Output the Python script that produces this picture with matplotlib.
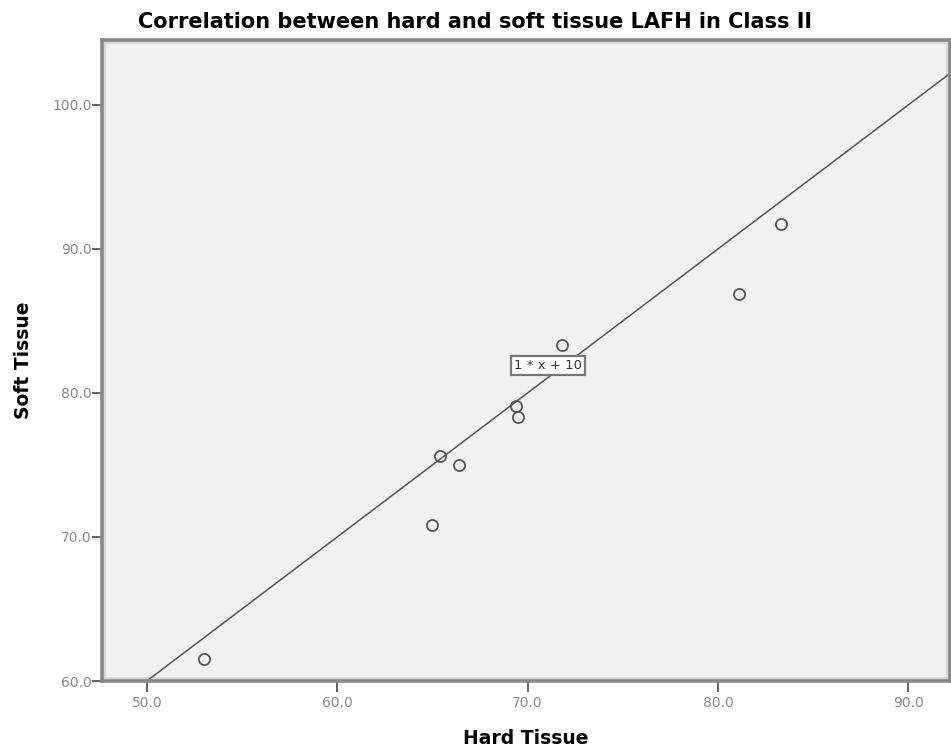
import matplotlib
matplotlib.use("Agg")
import matplotlib.pyplot as plt
from matplotlib.patches import Rectangle
import numpy as np

plt.rcParams['font.family'] = ['DejaVu Sans']

hard_tissue = [53.0, 65.0, 65.4, 66.4, 69.4, 69.5, 71.8, 81.1, 83.3]
soft_tissue = [61.5, 70.8, 75.6, 75.0, 79.1, 78.3, 83.3, 86.9, 91.7]
fit_slope = 1.0
fit_intercept = 10.0
fit_label = "1 * x + 10"
x_ticks = [50.0, 60.0, 70.0, 80.0, 90.0]
y_ticks = [60.0, 70.0, 80.0, 90.0, 100.0]

fig = plt.figure(figsize=(9.51, 7.55), dpi=100)
ax = fig.add_axes([0.1073, 0.098, 0.892, 0.849])
ax.set_facecolor("#F0F1F0")
ax.set_xlim(47.65, 92.2)
ax.set_ylim(60.0, 104.5)

ax.add_patch(Rectangle((0, 0), 1, 1, transform=ax.transAxes, fc='none',
                       ec='#d6d6d6', lw=5.5, zorder=0.5, clip_on=True))

xl = np.array(ax.get_xlim())
ax.plot(xl, fit_slope * xl + fit_intercept, color="#555555", lw=1.1, zorder=2)
ax.plot(hard_tissue, soft_tissue, 'o', mfc='none', mec='#555555', mew=1.3, ms=8, zorder=3)

xm = 71.05
ax.text(xm, fit_slope * xm + fit_intercept + 0.85, fit_label, fontsize=9.5, ha='center', va='center',
        color='#333333', zorder=4,
        bbox=dict(boxstyle='square,pad=0.22', fc='white', ec='#777777', lw=1.6))

for s in ax.spines.values():
    s.set_color('#888888')
    s.set_linewidth(2.6)

ax.set_xticks(x_ticks)
ax.set_yticks(y_ticks)
ax.set_xticklabels([f"{v:.1f}" for v in x_ticks])
ax.set_yticklabels([f"{v:.1f}" for v in y_ticks])
ax.tick_params(axis='x', length=8, width=1.3, color='#555555', labelcolor='#8a8a8a', labelsize=10, pad=3)
ax.tick_params(axis='y', length=7, width=1.3, color='#555555', labelcolor='#8a8a8a', labelsize=10, pad=0.5)

ax.set_xlabel("Hard Tissue", fontsize=13.5, fontweight='bold', va='center')
ax.set_ylabel("Soft Tissue", fontsize=13.5, fontweight='bold', va='center')
ax.xaxis.set_label_coords(0.5, -0.089)
ax.yaxis.set_label_coords(-0.093, 0.5)
fig.text(0.5, 0.971, "Correlation between hard and soft tissue LAFH in Class II",
         fontsize=15, fontweight='bold', ha='center', va='center')

fig.savefig("out.png", dpi=100)
